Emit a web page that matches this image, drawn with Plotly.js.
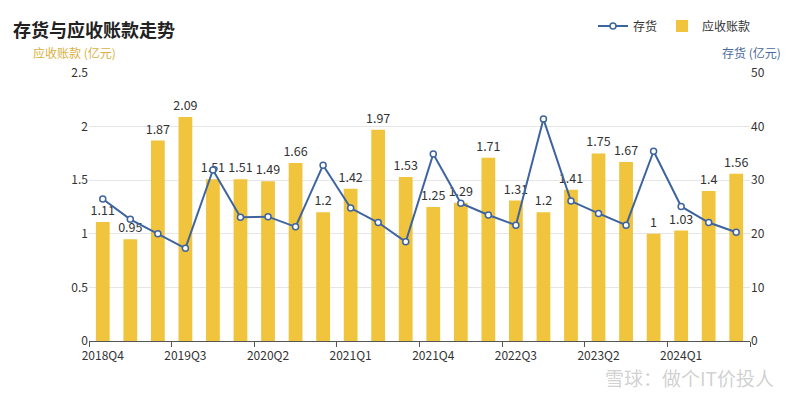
<!DOCTYPE html>
<html>
<head>
<meta charset="utf-8">
<script src="https://cdn.plot.ly/plotly-3.0.1.min.js"></script>
<style>html,body{margin:0;padding:0;background:#fff;}#chart{width:800px;height:395px;}</style>
</head>
<body>
<div id="chart"></div>
<script>
const quarters = ['2018Q4','2019Q1','2019Q2','2019Q3','2019Q4','2020Q1','2020Q2','2020Q3','2020Q4','2021Q1','2021Q2','2021Q3','2021Q4','2022Q1','2022Q2','2022Q3','2022Q4','2023Q1','2023Q2','2023Q3','2023Q4','2024Q1','2024Q2','2024Q3'];
const receivables = [1.11,0.95,1.87,2.09,1.51,1.51,1.49,1.66,1.2,1.42,1.97,1.53,1.25,1.29,1.71,1.31,1.2,1.41,1.75,1.67,1,1.03,1.4,1.56];
const inventory = [26.5,22.7,20.0,17.3,31.9,23.1,23.2,21.3,32.8,24.8,22.1,18.5,34.9,25.7,23.5,21.6,41.4,26.1,23.8,21.6,35.4,25.1,22.1,20.3];
const tickLabels = ['2018Q4','2019Q3','2020Q2','2021Q1','2021Q4','2022Q3','2023Q2','2024Q1'];
const leftTicks = [0,0.5,1,1.5,2,2.5];
const rightTicks = [0,10,20,30,40,50];

const font = '"Noto Sans CJK SC", "Noto Sans", sans-serif';
const barColor = '#F0C43C';
const lineColor = '#3E64A0';

const boundaryTicks = tickLabels.map(t => quarters.indexOf(t) - 0.5).concat([quarters.length - 0.5]);

const traces = [
  {
    type: 'scatter', mode: 'lines+markers', name: '存货',
    x: quarters, y: inventory, yaxis: 'y2',
    line: {color: lineColor, width: 2},
    marker: {symbol: 'circle', size: 6, color: '#fff', line: {color: lineColor, width: 1.5}},
    hoverinfo: 'skip'
  },
  {
    type: 'bar', name: '应收账款',
    x: quarters, y: receivables,
    marker: {color: barColor},
    width: 0.5,
    text: receivables.map(String), textposition: 'outside', cliponaxis: false,
    constraintext: 'none',
    textfont: {family: font, size: 12.5, color: '#333'},
    hoverinfo: 'skip'
  },
  {
    type: 'scatter', mode: 'markers', x: [0], y: [0], xaxis: 'x2', yaxis: 'y',
    marker: {opacity: 0}, showlegend: false, hoverinfo: 'skip'
  }
];

const layout = {
  width: 800, height: 395,
  margin: {l: 89, r: 50, t: 73, b: 54, autoexpand: false},
  paper_bgcolor: '#fff', plot_bgcolor: '#fff',
  font: {family: font, size: 12, color: '#333'},
  showlegend: true,
  legend: {orientation: 'h', xref: 'container', yref: 'container', x: 0.945, xanchor: 'right',
    y: 1 - 26/395, yanchor: 'middle',
    traceorder: 'normal', font: {family: font, size: 12, color: '#333'}},
  barmode: 'group',
  xaxis: {
    type: 'category', range: [-0.5, quarters.length - 0.5],
    tickmode: 'array', tickvals: tickLabels, ticktext: tickLabels,
    ticks: '', showgrid: false, zeroline: false, ticklabelstandoff: 4,
    showline: true, linecolor: '#555', linewidth: 1,
    tickfont: {family: font, size: 12, color: '#333'}, tickangle: 0
  },
  xaxis2: {
    overlaying: 'x', side: 'bottom', range: [-0.5, quarters.length - 0.5],
    tickmode: 'array', tickvals: boundaryTicks, showticklabels: false,
    ticks: 'outside', ticklen: 5, tickcolor: '#555', showgrid: false, zeroline: false, showline: false
  },
  yaxis: {
    range: [0, 2.5], tickmode: 'array', tickvals: leftTicks, ticktext: leftTicks.map(String),
    showgrid: true, gridcolor: '#E6E6E6', zeroline: false, showline: false, ticks: '',
    tickfont: {family: font, size: 12, color: '#333'}
  },
  yaxis2: {
    overlaying: 'y', side: 'right', range: [0, 50], tickmode: 'array', tickvals: rightTicks,
    showgrid: false, zeroline: false, showline: false, ticks: '',
    tickfont: {family: font, size: 12, color: '#333'}
  },
  annotations: [
    {text: '<b>存货与应收账款走势</b>', xref: 'paper', yref: 'paper', x: -0.118, y: 1.165,
     xanchor: 'left', yanchor: 'middle', showarrow: false,
     font: {family: font, size: 18, color: '#222'}},
    {text: '应收账款 (亿元)', xref: 'paper', yref: 'paper', x: -0.088, y: 1.078,
     xanchor: 'left', yanchor: 'middle', showarrow: false,
     font: {family: font, size: 12, color: '#D8B13F'}},
    {text: '存货 (亿元)', xref: 'paper', yref: 'paper', x: 1.05, y: 1.078,
     xanchor: 'right', yanchor: 'middle', showarrow: false,
     font: {family: font, size: 12, color: '#4A6A9A'}},
    {text: '雪球：做个IT价投人', xref: 'paper', yref: 'paper', x: 1.04, y: -0.138,
     xanchor: 'right', yanchor: 'middle', showarrow: false,
     font: {family: font, size: 19, color: 'rgba(150,150,150,0.45)'}}
  ]
};

Plotly.newPlot('chart', traces, layout, {displayModeBar: false, staticPlot: true});
</script>
</body>
</html>
